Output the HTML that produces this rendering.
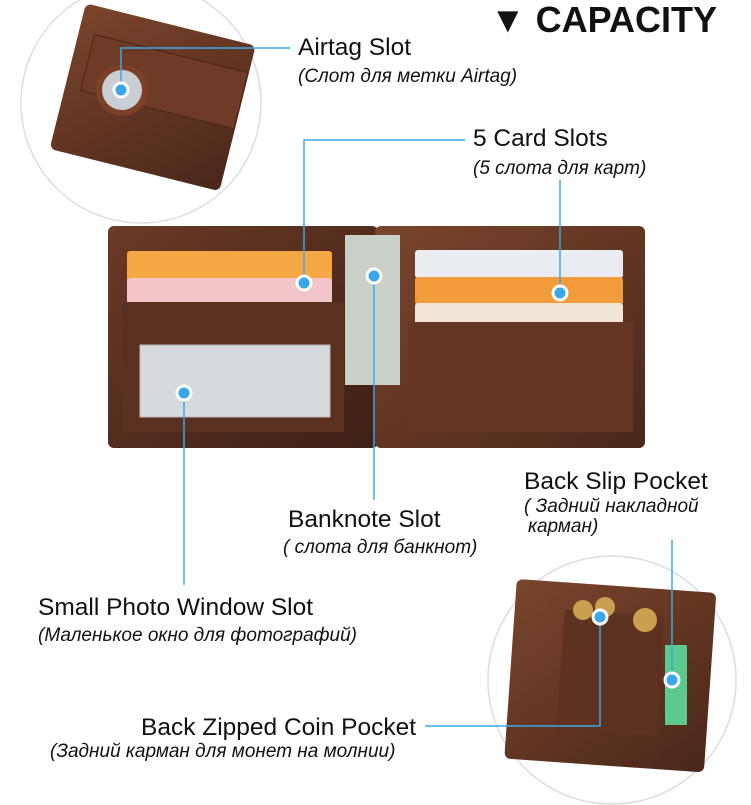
<!DOCTYPE html>
<html><head><meta charset="utf-8"><style>
body{margin:0;background:#fff;width:751px;height:805px;overflow:hidden}
svg{display:block}
text{font-family:"Liberation Sans",sans-serif;fill:#111}
.t{font-size:24.5px}.r{font-size:19px;font-style:italic}
</style></head><body>
<svg width="751" height="805" viewBox="0 0 751 805">
<defs>
<linearGradient id="lw" x1="0" y1="0" x2="1" y2="1"><stop offset="0" stop-color="#6a3a26"/><stop offset="1" stop-color="#3e2016"/></linearGradient>
<linearGradient id="rw" x1="0" y1="0" x2="1" y2="1"><stop offset="0" stop-color="#7a452c"/><stop offset="1" stop-color="#4a271a"/></linearGradient>
</defs>
<circle cx="141" cy="103" r="120" fill="#fff" stroke="#ddd" stroke-width="1.5"/>
<g transform="rotate(14 150 110)">
<rect x="62" y="22" width="175" height="150" rx="6" fill="url(#rw)"/>
<rect x="78" y="50" width="158" height="58" fill="#6e3b26" stroke="#4a2517"/>
</g>
<circle cx="122" cy="90" r="26" fill="#7a4028"/>
<circle cx="122" cy="90" r="20" fill="#c9ced4"/>
<rect x="180" y="228" width="380" height="130" fill="#dfe3d8"/>
<rect x="108" y="226" width="270" height="222" rx="6" fill="url(#lw)"/>
<rect x="375" y="226" width="270" height="222" rx="6" fill="url(#rw)"/>
<rect x="345" y="235" width="55" height="150" fill="#c9d0c8"/>
<rect x="127" y="251" width="205" height="34" rx="3" fill="#f4a742"/>
<rect x="127" y="278" width="205" height="30" rx="3" fill="#f2c5c8"/>
<rect x="415" y="250" width="208" height="28" rx="3" fill="#e9ecf0"/>
<rect x="415" y="277" width="208" height="28" rx="3" fill="#f29b3a"/>
<rect x="415" y="303" width="208" height="26" rx="3" fill="#f0e6d8"/>
<rect x="122" y="302" width="222" height="130" fill="#5a3020"/>
<rect x="408" y="322" width="225" height="110" fill="#653624"/>
<rect x="140" y="345" width="190" height="72" fill="#d6dadc" stroke="#bbb"/>
<circle cx="612" cy="680" r="124" fill="#fff" stroke="#ddd" stroke-width="1.5"/>
<g transform="rotate(4 600 680)">
<rect x="510" y="585" width="200" height="180" rx="6" fill="url(#rw)"/>
<rect x="560" y="612" width="100" height="120" fill="#5e3220"/>
</g>
<circle cx="583" cy="610" r="10" fill="#c8a050"/><circle cx="605" cy="607" r="10" fill="#c8a050"/><circle cx="645" cy="620" r="12" fill="#c8a050"/>
<rect x="665" y="645" width="22" height="80" fill="#5cc98f"/>
<g stroke="#3aa8e8" stroke-width="1.5" fill="none">
<polyline points="121,90 121,48 290,48"/>
<polyline points="304,283 304,140 465,140"/>
<line x1="560" y1="293" x2="560" y2="180"/>
<line x1="374" y1="276" x2="374" y2="500"/>
<line x1="184" y1="393" x2="184" y2="585"/>
<line x1="672" y1="680" x2="672" y2="540"/>
<polyline points="425,726 600,726 600,617"/>
</g>
<g fill="#3aa8e8" stroke="#fff" stroke-width="3">
<circle cx="121" cy="90" r="7"/><circle cx="304" cy="283" r="7"/><circle cx="560" cy="293" r="7"/>
<circle cx="374" cy="276" r="7"/><circle cx="184" cy="393" r="7"/><circle cx="672" cy="680" r="7"/><circle cx="600" cy="617" r="7"/>
</g>
<text x="490" y="32" font-weight="bold" style="font-size:36px">▼ CAPACITY</text>
<text class="t" x="298" y="55">Airtag Slot</text>
<text class="r" x="298" y="82">(Слот для метки Airtag)</text>
<text class="t" x="473" y="146">5 Card Slots</text>
<text class="r" x="473" y="174">(5 слота для карт)</text>
<text class="t" x="288" y="527">Banknote Slot</text>
<text class="r" x="283" y="553">( слота для банкнот)</text>
<text class="t" x="524" y="489">Back Slip Pocket</text>
<text class="r" x="524" y="512">( Задний накладной</text>
<text class="r" x="528" y="532">карман)</text>
<text class="t" x="38" y="615">Small Photo Window Slot</text>
<text class="r" x="38" y="641">(Маленькое окно для фотографий)</text>
<text class="t" x="141" y="735">Back Zipped Coin Pocket</text>
<text class="r" x="50" y="757">(Задний карман для монет на молнии)</text>
</svg>
</body></html>
